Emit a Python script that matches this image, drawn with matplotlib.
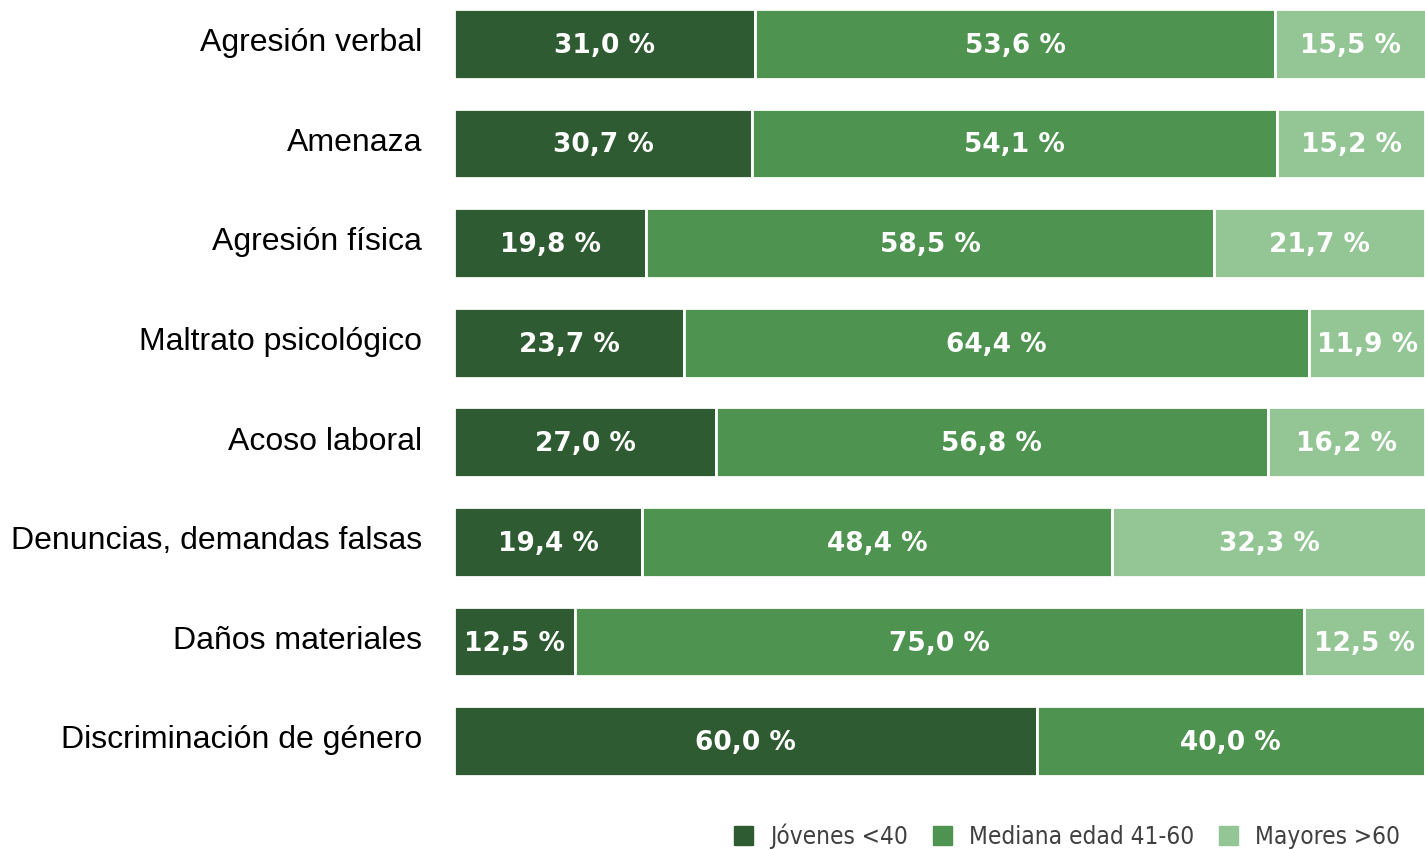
import numpy as np
import matplotlib.pyplot as plt
from matplotlib.patches import Patch
from matplotlib.transforms import ScaledTranslation

categories = ["Agresión verbal", "Amenaza", "Agresión física", "Maltrato psicológico",
              "Acoso laboral", "Denuncias, demandas falsas", "Daños materiales",
              "Discriminación de género"]
jovenes = [31.0, 30.7, 19.8, 23.7, 27.0, 19.4, 12.5, 60.0]
mediana = [53.6, 54.1, 58.5, 64.4, 56.8, 48.4, 75.0, 40.0]
mayores = [15.5, 15.2, 21.7, 11.9, 16.2, 32.3, 12.5, 0.0]
series_names = ["Jóvenes <40", "Mediana edad 41-60", "Mayores >60"]
colors = ["#2f5b32", "#4e9350", "#94c695"]

fig = plt.figure(figsize=(14.25, 8.49), dpi=100)
ax = fig.add_axes([454 / 1425, 1 - 781 / 849, 1 - 454 / 1425, 777 / 849])

y = np.arange(len(categories))
left = np.zeros(len(categories))
for vals, col in zip([jovenes, mediana, mayores], colors):
    vals = np.array(vals)
    bars = ax.barh(y, vals, left=left, height=0.7, color=col, edgecolor="white", linewidth=2)
    for b, v in zip(bars, vals):
        if v > 0:
            ax.text(b.get_x() + b.get_width() / 2, b.get_y() + b.get_height() / 2 + 0.02,
                    f"{v:.1f} %".replace(".", ","), ha="center", va="center",
                    color="white", fontsize=19, fontweight="bold", family="DejaVu Sans")
    left += vals

ax.set_xlim(0, 100)
ax.set_ylim(7.4, -0.4)
ax.set_yticks(y)
ax.set_yticklabels(categories, fontsize=23, family="Liberation Sans", color="black")
ax.tick_params(axis="y", length=0, pad=23)
ax.set_xticks([])
for lab in ax.get_yticklabels():
    lab.set_transform(lab.get_transform() + ScaledTranslation(0, 3 / 72, fig.dpi_scale_trans))
for s in ax.spines.values():
    s.set_visible(False)

handles = [Patch(color=c, label=n) for c, n in zip(colors, series_names)]
fig.legend(handles=handles, ncol=3, loc="center left", bbox_to_anchor=(734 / 1425, 1 - 836 / 849),
           frameon=False, borderaxespad=0, borderpad=0, handlelength=0.8, handleheight=0.85,
           handletextpad=0.7, columnspacing=1.0,
           prop={"family": "DejaVu Sans", "stretch": "condensed", "size": 17.5},
           labelcolor="#404040")

fig.savefig("out.png", dpi=100)
